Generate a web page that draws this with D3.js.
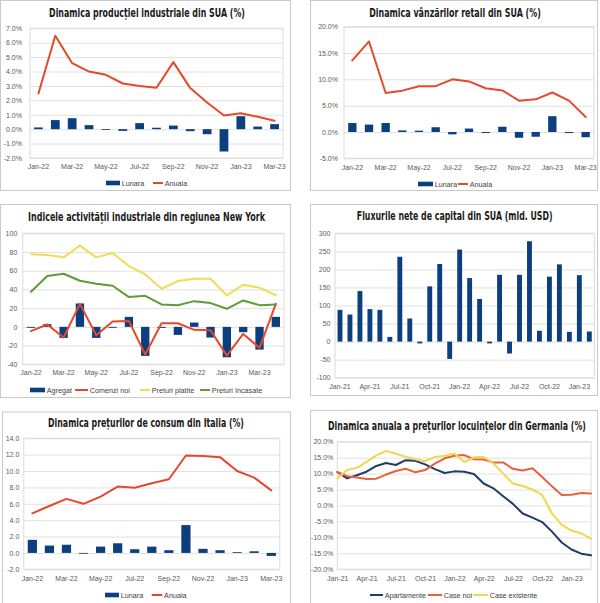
<!DOCTYPE html>
<html><head><meta charset="utf-8">
<script src="https://cdn.jsdelivr.net/npm/d3@7"></script>
<style>body{margin:0;background:#fff}svg{display:block}</style>
</head><body>
<script>
// ---------- DATA ----------
const months22 = ["Jan-22","Feb-22","Mar-22","Apr-22","May-22","Jun-22","Jul-22","Aug-22","Sep-22","Oct-22","Nov-22","Dec-22","Jan-23","Feb-23","Mar-23"];
const months22b = months22.concat(["Apr-23"]);
const months21 = ["Jan-21","Feb-21","Mar-21","Apr-21","May-21","Jun-21","Jul-21","Aug-21","Sep-21","Oct-21","Nov-21","Dec-21"].concat(months22.slice(0,12)).concat(["Jan-23","Feb-23"]);
const months21b = months21.concat(["Mar-23"]);

const xTicks2 = ["Jan-22","Mar-22","May-22","Jul-22","Sep-22","Nov-22","Jan-23","Mar-23"];
const xTicks3 = ["Jan-21","Apr-21","Jul-21","Oct-21","Jan-22","Apr-22","Jul-22","Oct-22","Jan-23"];

// US industrial production (%)
const usIndLunara = [0.12,0.63,0.76,0.28,-0.02,-0.12,0.42,0.1,0.25,-0.14,-0.35,-1.55,0.9,0.18,0.35];
const usIndAnuala = [2.48,6.48,4.58,4.0,3.77,3.17,3.0,2.87,4.65,2.85,1.85,0.95,1.1,0.86,0.58];
const usIndTicks = [-2,-1,0,1,2,3,4,5,6,7];

// US retail sales (%)
const usRetLunara = [1.7,1.4,1.7,0.3,0.25,0.9,-0.45,0.65,-0.2,1.0,-1.1,-0.9,3.0,-0.2,-1.0];
const usRetAnuala = [13.6,17.2,7.4,7.85,8.7,8.7,10.0,9.6,8.3,7.9,5.95,6.2,7.5,5.95,2.85];
const usRetTicks = [-5,0,5,10,15,20];

// New York Empire State
const nyAgregat = [-1,2.9,-11.8,25,-11.8,-1,10.7,-31,-1.1,-8.6,4.6,-11.4,-32.5,-5.7,-24.3,10.7];
const nyComenzi = [-4.6,2.5,-11.4,24.6,-8.9,5.7,6.4,-29.6,3.9,3.9,-3.2,-3.6,-30.7,-7.5,-22.5,24.6];
const nyPlatite = [77.5,76.8,74.3,86.8,74.3,79,65,56,40.7,49,51.4,51.4,33.6,45,41.8,34];
const nyIncasate = [37.5,54.3,56.8,49.3,46,44,31.8,33.2,24,23.2,27.5,25.4,19.3,28.2,23.2,24];
const nyTicks = [-40,-20,0,20,40,60,80,100];

// US net capital flows (bn USD)
const capFlows = [88,75,140,90,88,13,235,64,-5,153,215,-48,255,176,118,-5,185,-33,185,278,30,180,214,27,184,28];
const capTicks = [-100,-50,0,50,100,150,200,250,300];

// Italy CPI (%)
const itLunara = [1.6,0.9,1.0,-0.1,0.77,1.18,0.45,0.77,0.33,3.4,0.5,0.33,0.1,0.2,-0.37];
const itAnuala = [4.84,5.73,6.6,6.0,6.87,8.1,7.97,8.5,9.0,11.9,11.85,11.7,10.0,9.2,7.64];
const itTicks = [-2,0,2,4,6,8,10,12,14];

// Germany house prices (% y/y)
const deApart = [10.5,8.5,9.5,10.6,12.4,13.3,12.7,14.2,14.0,12.9,11.4,10.2,10.7,10.6,9.9,6.9,5.4,2.9,0.5,-2.5,-3.8,-5.2,-8.2,-11.6,-13.8,-15.1,-15.6];
const deNoi = [10.5,9.2,8.8,8.3,8.4,9.7,10.8,11.5,10.4,11.1,13.1,14.8,15.6,15.8,14.5,14.4,13.5,13.5,11.5,11.0,11.7,8.9,6.0,3.3,3.4,3.9,3.8];
const deExist = [8.5,11.1,11.8,13.7,15.7,17.1,16.2,15.3,14.5,13.9,15.2,15.6,16.3,13.6,15.1,15.2,13.2,10.0,6.9,6.1,5.0,3.3,-2.5,-6.1,-7.9,-8.7,-10.4];
const deTicks = [-20,-15,-10,-5,0,5,10,15,20];

// ---------- STYLE ----------
const NAVY = "#0c3f7f", RED = "#e5492b", YEL = "#f5da55", GRN = "#5f9b38";
const TXT = "#595959", FONT = "'Liberation Sans', Arial, sans-serif";
const pct1 = v => (v < 0 ? "-" : "") + Math.abs(v).toFixed(1) + "%";
const dec1 = v => (v < 0 ? "-" : "") + Math.abs(v).toFixed(1);
const int0 = v => (v < 0 ? "-" : "") + Math.abs(v);

const svg = d3.select("body").append("svg").attr("width", 600).attr("height", 603);

function drawPanel(p) {
  const g = svg.append("g");
  g.append("rect").attr("x", p.box[0] + 0.5).attr("y", p.box[1] + 0.5)
    .attr("width", p.box[2]).attr("height", p.box[3])
    .attr("fill", "#fff").attr("stroke", "#c9c9c9").attr("stroke-width", 1);

  const y = d3.scaleLinear().domain([p.ticks[0], p.ticks[p.ticks.length - 1]]).range([p.yBot, p.yTop]);
  let x, cx;
  if (p.point) {
    x = d3.scalePoint().domain(p.cats).range([p.x0, p.x1]);
    cx = d => x(d);
  } else {
    x = d3.scaleBand().domain(p.cats).range([p.x0, p.x1]).paddingInner(p.pad).paddingOuter(p.pad / 2);
    cx = d => x(d) + x.bandwidth() / 2;
  }

  const grid = g.append("g").attr("transform", `translate(${p.x0},0)`)
    .call(d3.axisLeft(y).tickValues(p.ticks).tickSize(-(p.x1 - p.x0)).tickFormat(""));
  grid.select(".domain").remove();
  grid.selectAll("line").attr("stroke", "#e1e1e1").attr("stroke-width", 1);
  g.append("rect").attr("x", p.x0).attr("y", p.yTop).attr("width", p.x1 - p.x0).attr("height", p.yBot - p.yTop)
    .attr("fill", "none").attr("stroke", "#dcdcdc").attr("stroke-width", 1);

  const ya = g.append("g").attr("transform", `translate(${p.x0},0)`)
    .call(d3.axisLeft(y).tickValues(p.ticks).tickSize(0).tickPadding(p.ypad).tickFormat(p.fmt));
  ya.select(".domain").remove();
  ya.attr("font-family", FONT).attr("font-size", 7);
  ya.selectAll("text").attr("fill", TXT);

  const xa = g.append("g").attr("transform", `translate(0,${p.xLabelY - 2.6})`)
    .call(d3.axisBottom(x).tickValues(p.xTicks).tickSize(0).tickPadding(0));
  xa.select(".domain").remove();
  xa.attr("font-family", FONT).attr("font-size", 7);
  xa.selectAll("text").attr("fill", TXT);

  if (p.bars) {
    g.append("g").selectAll("rect").data(p.bars).join("rect")
      .attr("x", (d, i) => x(p.cats[i]))
      .attr("width", x.bandwidth())
      .attr("y", d => Math.min(y(d), y(0)))
      .attr("height", d => Math.max(0.8, Math.abs(y(d) - y(0))))
      .attr("fill", NAVY);
  }
  (p.lines || []).forEach(L => {
    const line = d3.line().x((d, i) => cx(p.cats[i])).y(d => y(d));
    g.append("path").datum(L.values).attr("d", line)
      .attr("fill", "none").attr("stroke", L.color).attr("stroke-width", L.w || 2)
      .attr("stroke-linejoin", "round").attr("stroke-linecap", "round");
  });

  // title: natural text, horizontally scaled to the reference width
  const tg = g.append("g");
  const tt = tg.append("text").attr("x", 0).attr("y", 0)
    .attr("text-anchor", "middle")
    .attr("font-family", "'DejaVu Sans Condensed','DejaVu Sans',sans-serif")
    .attr("font-weight", "bold").attr("font-size", 12).attr("fill", "#1a1a1a")
    .text(p.title[0]);
  const nat = tt.node().getComputedTextLength();
  const sx = nat > 0 ? p.title[3] / nat : 1;
  tg.attr("transform", `translate(${p.title[1]},${p.title[2]}) scale(${sx},1)`);

  (p.legend || []).forEach(it => {
    if (it.type === "rect") {
      g.append("rect").attr("x", it.x0).attr("y", p.legendY - 2.3).attr("width", it.x1 - it.x0).attr("height", 4.6).attr("fill", it.color);
    } else {
      g.append("line").attr("x1", it.x0).attr("x2", it.x1).attr("y1", p.legendY).attr("y2", p.legendY)
        .attr("stroke", it.color).attr("stroke-width", 2);
    }
    g.append("text").attr("x", it.x1 + 1.8).attr("y", p.legendY + 2.5)
      .attr("font-family", FONT).attr("font-size", 7.2).attr("fill", "#404040").text(it.label);
  });
}

drawPanel({
  box: [0, 0, 290, 190], x0: 30, x1: 283, yTop: 28.3, yBot: 158, ticks: usIndTicks, fmt: pct1, ypad: 8,
  cats: months22, pad: 0.48, xTicks: xTicks2, xLabelY: 167,
  bars: usIndLunara, lines: [{ values: usIndAnuala, color: RED }],
  title: ["Dinamica producției industriale din SUA (%)", 147, 16.6, 196],
  legendY: 183,
  legend: [{ type: "rect", x0: 106, x1: 120, color: NAVY, label: "Lunara" },
           { type: "line", x0: 153, x1: 163, color: RED, label: "Anuala" }]
});

drawPanel({
  box: [310, 0, 287, 190], x0: 344, x1: 594, yTop: 26.7, yBot: 158.3, ticks: usRetTicks, fmt: pct1, ypad: 6,
  cats: months22, pad: 0.5, xTicks: xTicks2, xLabelY: 167.7,
  bars: usRetLunara, lines: [{ values: usRetAnuala, color: RED }],
  title: ["Dinamica vânzărilor retail din SUA (%)", 455, 16.6, 172],
  legendY: 184,
  legend: [{ type: "rect", x0: 418, x1: 433, color: NAVY, label: "Lunara" },
           { type: "line", x0: 458, x1: 468, color: RED, label: "Anuala" }]
});

drawPanel({
  box: [0, 204, 290, 193], x0: 22.8, x1: 284, yTop: 233.3, yBot: 364.3, ticks: nyTicks, fmt: int0, ypad: 5.5,
  cats: months22b, pad: 0.49, xTicks: xTicks2, xLabelY: 373,
  bars: nyAgregat,
  lines: [{ values: nyComenzi, color: RED }, { values: nyPlatite, color: YEL }, { values: nyIncasate, color: GRN }],
  title: ["Indicele activității industriale din regiunea New York", 146.5, 221, 237],
  legendY: 390,
  legend: [{ type: "rect", x0: 30, x1: 45, color: NAVY, label: "Agregat" },
           { type: "line", x0: 75, x1: 88, color: RED, label: "Comenzi noi" },
           { type: "line", x0: 140, x1: 150, color: YEL, label: "Preturi platite" },
           { type: "line", x0: 200, x1: 210, color: GRN, label: "Preturi încasate" }]
});

drawPanel({
  box: [310, 204, 287, 191], x0: 335, x1: 594.3, yTop: 233.3, yBot: 377.7, ticks: capTicks, fmt: int0, ypad: 4.5,
  cats: months21, pad: 0.51, xTicks: xTicks3, xLabelY: 386.7,
  bars: capFlows,
  title: ["Fluxurile nete de capital din SUA (mld. USD)", 454.7, 220.3, 196]
});

drawPanel({
  box: [2, 411.5, 288, 192], x0: 23.8, x1: 279.8, yTop: 438.3, yBot: 569.3, ticks: itTicks, fmt: dec1, ypad: 4.5,
  cats: months22, pad: 0.46, xTicks: xTicks2, xLabelY: 578.3,
  bars: itLunara, lines: [{ values: itAnuala, color: RED }],
  title: ["Dinamica prețurilor de consum din Italia (%)", 146, 426.6, 196],
  legendY: 595,
  legend: [{ type: "rect", x0: 105, x1: 119, color: NAVY, label: "Lunara" },
           { type: "line", x0: 151.7, x1: 162.3, color: RED, label: "Anuala" }]
});

drawPanel({
  box: [310, 410, 287, 193], x0: 337.3, x1: 591, yTop: 441.7, yBot: 569.3, ticks: deTicks, fmt: pct1, ypad: 4,
  point: true, cats: months21b, xTicks: xTicks3, xLabelY: 578.3,
  lines: [{ values: deApart, color: "#1f3d66" }, { values: deNoi, color: "#e8613c" }, { values: deExist, color: "#f3d64e" }],
  title: ["Dinamica anuala a prețurilor locuințelor din Germania (%)", 457, 430, 258],
  legendY: 595,
  legend: [{ type: "line", x0: 370, x1: 383, color: "#1f3d66", label: "Apartamente" },
           { type: "line", x0: 428, x1: 442, color: "#e8613c", label: "Case noi" },
           { type: "line", x0: 473, x1: 488, color: "#f3d64e", label: "Case existente" }]
});
</script>
</body></html>
